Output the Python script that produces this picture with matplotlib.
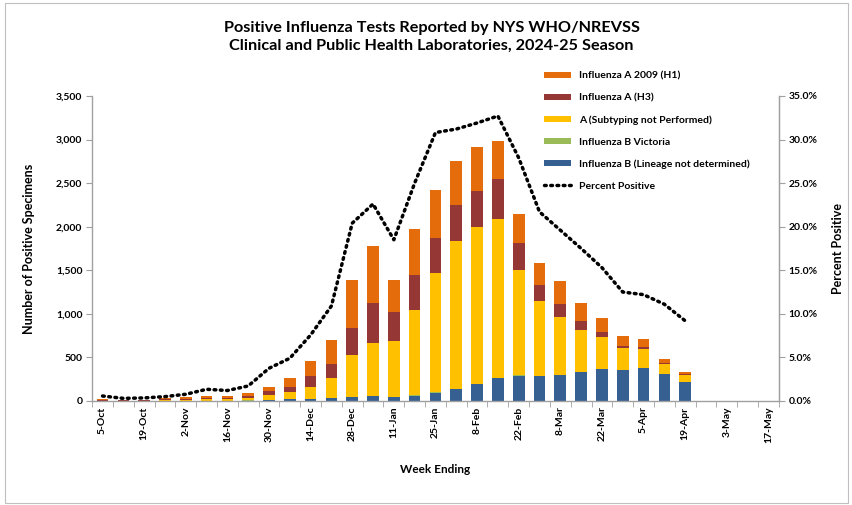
import matplotlib
matplotlib.use("Agg")
import matplotlib.pyplot as plt
from matplotlib.ticker import FuncFormatter, FixedLocator
from matplotlib.patches import Rectangle

plt.rcParams['font.family'] = ['Lato', 'DejaVu Sans']

weeks = ['5-Oct', '12-Oct', '19-Oct', '26-Oct', '2-Nov', '9-Nov', '16-Nov', '23-Nov',
         '30-Nov', '7-Dec', '14-Dec', '21-Dec', '28-Dec', '4-Jan', '11-Jan', '18-Jan',
         '25-Jan', '1-Feb', '8-Feb', '15-Feb', '22-Feb', '1-Mar', '8-Mar', '15-Mar',
         '22-Mar', '29-Mar', '5-Apr', '12-Apr', '19-Apr', '26-Apr', '3-May', '10-May', '17-May']

b_lineage = [1, 1, 1, 2, 2, 3, 3, 5, 10, 20, 25, 30, 45, 55, 45, 60, 95, 140, 195,
             260, 290, 283, 298, 329, 367, 352, 375, 306, 222]
b_victoria = [0, 0, 0, 0, 0, 0, 0, 1, 2, 3, 3, 4, 5, 5, 5, 4, 4, 3, 3,
              3, 3, 2, 2, 2, 2, 1, 1, 1, 1]
a_unsub = [4, 3, 4, 5, 8, 17, 15, 30, 56, 82, 127, 234, 475, 605, 635, 985, 1365, 1690, 1800,
           1825, 1210, 866, 668, 487, 362, 252, 217, 118, 72]
a_h3 = [3, 2, 4, 15, 10, 15, 17, 25, 50, 58, 130, 157, 315, 460, 340, 400, 405, 413, 413,
        463, 315, 184, 141, 104, 61, 30, 23, 15, 10]
a_h1 = [12, 5, 6, 8, 20, 25, 20, 25, 47, 100, 168, 275, 548, 657, 360, 520, 550, 510, 505,
        435, 330, 249, 268, 199, 160, 111, 92, 42, 31]
pct_pos = [0.57, 0.30, 0.35, 0.50, 0.77, 1.34, 1.20, 1.72, 3.75, 4.90, 7.57, 10.9, 20.4, 22.6,
           18.5, 25.0, 30.8, 31.2, 31.9, 32.7, 27.9, 21.7, 19.6, 17.5, 15.3, 12.5, 12.2, 11.1, 9.2]

c_h1 = '#E46C0A'
c_h3 = '#953735'
c_unsub = '#FFC000'
c_vic = '#9BBB59'
c_lin = '#376092'

fig = plt.figure(figsize=(8.53, 5.05), dpi=100)
ax = fig.add_axes([0.108, 0.206, 0.805, 0.604])

x = list(range(len(b_lineage)))
w = 0.56
bottom = [0] * len(x)
series = [(b_lineage, c_lin, 'Influenza B (Lineage not determined)'),
          (b_victoria, c_vic, 'Influenza B Victoria'),
          (a_unsub, c_unsub, 'A (Subtyping not Performed)'),
          (a_h3, c_h3, 'Influenza A (H3)'),
          (a_h1, c_h1, 'Influenza A 2009 (H1)')]
handles = {}
for vals, col, lab in series:
    h = ax.bar(x, vals, w, bottom=bottom, color=col, label=lab, linewidth=0)
    handles[lab] = h
    bottom = [b + v for b, v in zip(bottom, vals)]

ax.set_xlim(-0.5, len(weeks) - 0.5)
ax.set_ylim(0, 3500)
ax.set_yticks(range(0, 3501, 500))
ax.yaxis.set_major_formatter(FuncFormatter(lambda v, p: f'{int(v):,}'))
ax.set_xticks(range(0, len(weeks), 2))
ax.set_xticklabels(weeks[::2], rotation=90, fontsize=7.5, fontweight='bold')
ax.xaxis.set_minor_locator(FixedLocator([i + 0.5 for i in range(-1, len(weeks))]))
ax.tick_params(axis='x', which='major', length=0, pad=4)
ax.tick_params(axis='x', which='minor', length=4, color='#A0A0A0', direction='out')
ax.tick_params(axis='y', length=4, color='#A0A0A0', labelsize=7.5, pad=3)
for t in ax.get_yticklabels():
    t.set_fontweight('bold')

ax.spines['top'].set_visible(False)
for s in ['left', 'bottom', 'right']:
    ax.spines[s].set_color('#A0A0A0')
    ax.spines[s].set_linewidth(1.0)

ax.set_ylabel('Number of Positive Specimens', fontsize=9, fontweight='bold', labelpad=15)
ax.set_xlabel('Week Ending', fontsize=8.5, fontweight='bold', labelpad=15)

ax2 = ax.twinx()
line, = ax2.plot(x, [p / 100 for p in pct_pos], color='black', linewidth=2.5,
                 linestyle=(0, (0.5, 1.3)), dash_capstyle='round', label='Percent Positive')
ax2.set_ylim(0, 0.35)
ax2.set_yticks([i * 0.05 for i in range(8)])
ax2.yaxis.set_major_formatter(FuncFormatter(lambda v, p: f'{v * 100:.1f}%'))
ax2.tick_params(axis='y', length=4, color='#A0A0A0', labelsize=7.5, pad=3)
for t in ax2.get_yticklabels():
    t.set_fontweight('bold')
ax2.spines['top'].set_visible(False)
ax2.spines['right'].set_color('#A0A0A0')
ax2.spines['left'].set_visible(False)
ax2.spines['bottom'].set_visible(False)
ax2.set_ylabel('Percent Positive', fontsize=9, fontweight='bold', labelpad=10)

order = ['Influenza A 2009 (H1)', 'Influenza A (H3)', 'A (Subtyping not Performed)',
         'Influenza B Victoria', 'Influenza B (Lineage not determined)']
leg = ax2.legend([handles[k] for k in order] + [line], order + ['Percent Positive'],
                 loc='upper left', bbox_to_anchor=(0.645, 1.11), frameon=False,
                 prop={'size': 7.5, 'weight': 'bold'}, handlelength=2.6, handleheight=0.55,
                 labelspacing=1.22, handletextpad=0.7)

fig.text(0.506, 0.926, 'Positive Influenza Tests Reported by NYS WHO/NREVSS\n'
         'Clinical and Public Health Laboratories, 2024-25 Season',
         ha='center', va='center', fontsize=11.7, fontweight='bold', linespacing=1.35)

fig.patches.append(Rectangle((0.006, 0.004), 0.988, 0.99, transform=fig.transFigure,
                             fill=False, edgecolor='#BFBFBF', linewidth=0.8))

fig.savefig('out.png', dpi=100)
